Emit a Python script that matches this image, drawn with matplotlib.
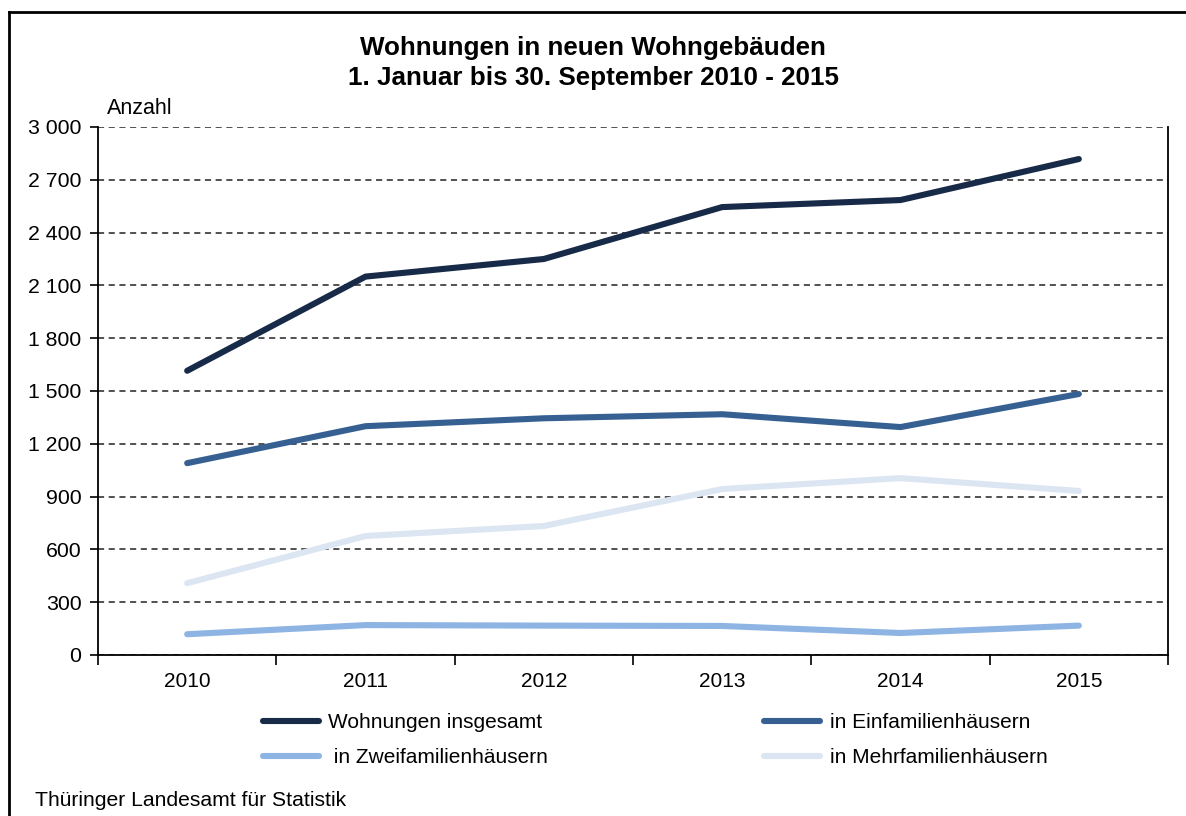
import matplotlib
matplotlib.use("Agg")
import matplotlib.pyplot as plt
from matplotlib.lines import Line2D
import numpy as np

plt.rcParams['font.family'] = ['Liberation Sans', 'DejaVu Sans']

years = ["2010", "2011", "2012", "2013", "2014", "2015"]
insgesamt = [1615, 2150, 2250, 2545, 2585, 2818]
einfamilien = [1090, 1300, 1345, 1368, 1295, 1483]
zweifamilien = [118, 170, 167, 165, 125, 167]
mehrfamilien = [408, 676, 733, 943, 1005, 932]
yticks = [0, 300, 600, 900, 1200, 1500, 1800, 2100, 2400, 2700, 3000]
ytick_labels = ["0", "300", "600", "900", "1 200", "1 500", "1 800", "2 100", "2 400", "2 700", "3 000"]

fig = plt.figure(figsize=(11.86, 8.16), dpi=100)
ax = fig.add_axes([98/1186, 1-655/816, (1168-98)/1186, (655-127)/816])

x = np.arange(len(years))
lw = 4.4
kw = dict(lw=lw, solid_capstyle="round", solid_joinstyle="round", zorder=5)
l1, = ax.plot(x, insgesamt, color="#172A48", label="Wohnungen insgesamt", **kw)
l2, = ax.plot(x, einfamilien, color="#376092", label="in Einfamilienhäusern", **kw)
l3, = ax.plot(x, zweifamilien, color="#8EB4E3", label=" in Zweifamilienhäusern", **kw)
l4, = ax.plot(x, mehrfamilien, color="#DCE6F2", label="in Mehrfamilienhäusern", **kw)

ax.set_xlim(-0.5, len(years) - 0.5)
ax.set_ylim(0, 3000)
ax.set_yticks(yticks)
ax.set_yticklabels(ytick_labels, fontsize=15.3)
ax.set_xticks(x)
ax.set_xticklabels(years, fontsize=15)
ax.tick_params(axis='x', which='major', length=0, pad=12)
ax.set_xticks(np.arange(-0.5, len(years)), minor=True)
ax.tick_params(axis='x', which='minor', length=7, width=1.2, direction='out', color='black')
ax.tick_params(axis='y', length=6, width=1.2, direction='out', pad=6)

ax.yaxis.grid(True, linestyle=(0, (4, 3)), color="#222222", linewidth=1.1)
ax.set_axisbelow(True)
ax.spines['top'].set_visible(False)
for s in ['left', 'right', 'bottom']:
    ax.spines[s].set_linewidth(1.3)
    ax.spines[s].set_color('black')

fig.text(0.5, 1-63/816, "Wohnungen in neuen Wohngebäuden\n1. Januar bis 30. September 2010 - 2015",
         ha='center', va='center', fontsize=18.7, fontweight='bold', linespacing=1.32)
fig.text(107/1186, 1-108/816, "Anzahl", ha='left', va='center', fontsize=15.5)
fig.text(35/1186, 1-801/816, "Thüringer Landesamt für Statistik", ha='left', va='center', fontsize=15.2)

handles = [l1, l3, l2, l4]
fig.legend(handles=handles, labels=[h.get_label() for h in handles], ncol=2,
           loc='center left', bbox_to_anchor=(244/1186, 1-740/816), frameon=False,
           fontsize=15, handlelength=2.7, handletextpad=0.45, columnspacing=10.35, labelspacing=0.75)

# outer frame (top and left edges)
fig.add_artist(Line2D([9/1186, 1.0], [1-12/816, 1-12/816], color='black', lw=2, transform=fig.transFigure))
fig.add_artist(Line2D([9/1186, 9/1186], [0, 1-12/816], color='black', lw=2, transform=fig.transFigure))

fig.savefig("out.png", dpi=100)
